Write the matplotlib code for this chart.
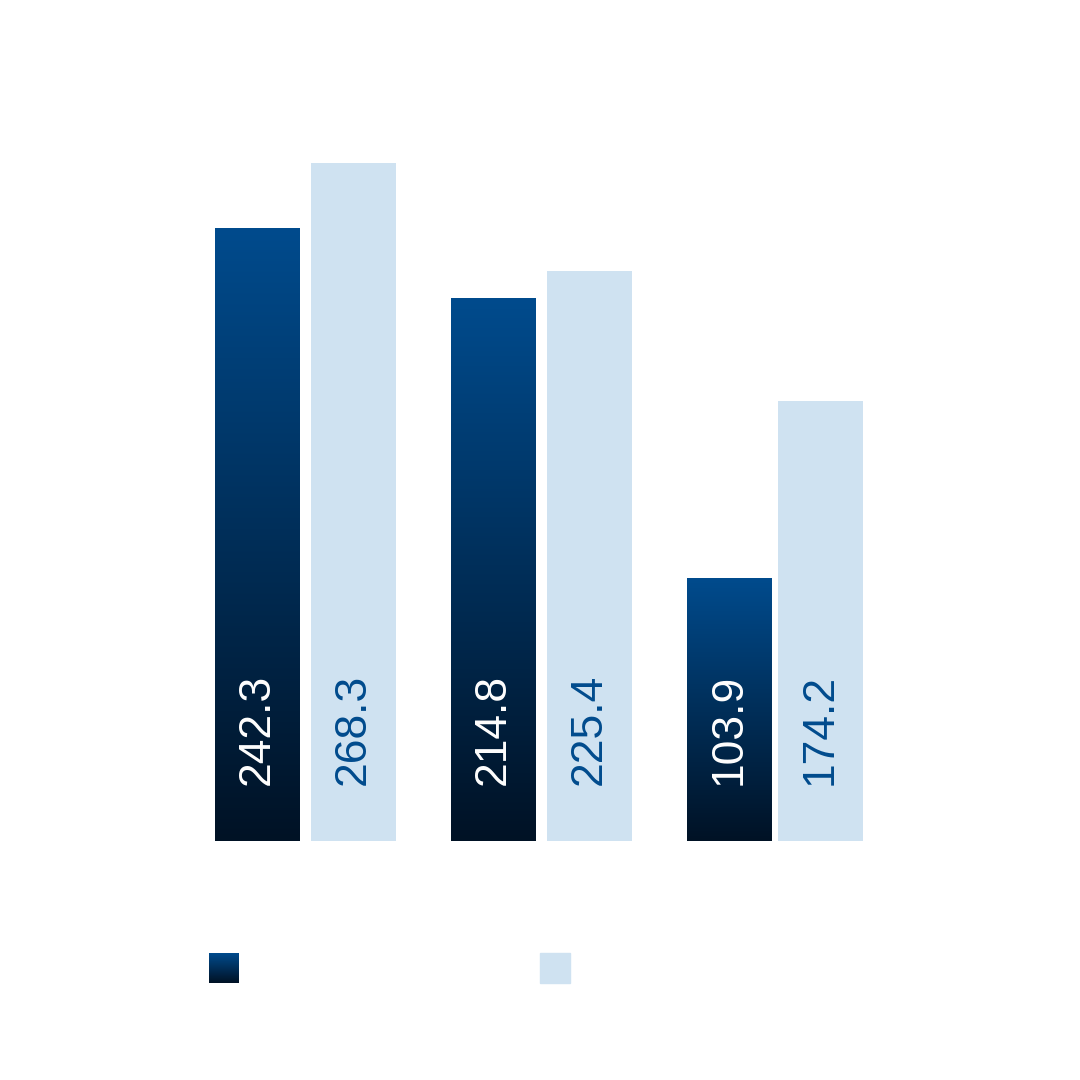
import numpy as np
import matplotlib
matplotlib.use("Agg")
import matplotlib.pyplot as plt
from matplotlib.colors import LinearSegmentedColormap

plt.rcParams['font.family'] = ['Liberation Sans', 'DejaVu Sans']

groups = ["A", "B", "C"]
series_dark = [242.3, 214.8, 103.9]
series_light = [268.3, 225.4, 174.2]

fig = plt.figure(figsize=(10.8, 10.8), dpi=100)
ax = fig.add_axes([0, 239 / 1080, 1, 678 / 1080])
ax.axis("off")

grad = LinearSegmentedColormap.from_list("g", ["#001225", "#004b8d"])
light = "#cfe2f1"
w = 85
starts = [215, 451, 687]

for i, x0 in enumerate(starts):
    v = series_dark[i]
    ax.imshow(np.linspace(0, 1, 256).reshape(-1, 1), cmap=grad, origin="lower",
              extent=[x0, x0 + w, 0, v], aspect="auto", zorder=2)
    ax.text(x0 + w / 2, 22, f"{v}", rotation=90, ha="center", va="bottom",
            color="white", fontsize=32, zorder=3)
    xl = x0 + w + (11 if i < 2 else 6)
    ax.bar(xl, series_light[i], width=w, align="edge", color=light, zorder=2)
    ax.text(xl + w / 2, 22, f"{series_light[i]}", rotation=90, ha="center", va="bottom",
            color="#004b8d", fontsize=32, zorder=3)

ax.set_xlim(0, 1080)
ax.set_ylim(0, 268.3)

# legend squares
lax = fig.add_axes([0, 0, 1, 1])
lax.axis("off")
lax.imshow(np.linspace(1, 0, 64).reshape(-1, 1), cmap=grad, extent=[209, 239, 983, 953], aspect="auto")
lax.add_patch(plt.Rectangle((540, 953), 30, 30, color=light))
lax.set_xlim(0, 1080)
lax.set_ylim(1080, 0)

fig.savefig("out.png", dpi=100)
